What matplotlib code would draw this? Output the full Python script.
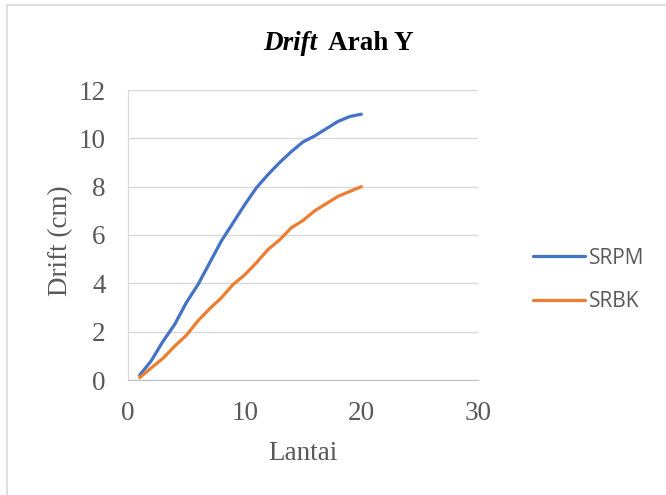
import matplotlib.pyplot as plt
import numpy as np

# data
lantai = np.arange(1, 21)
srpm = [0.2, 0.8, 1.6, 2.3, 3.2, 3.95, 4.85, 5.75, 6.5, 7.25,
        7.95, 8.5, 9.0, 9.45, 9.85, 10.1, 10.4, 10.7, 10.9, 11.0]
srbk = [0.1, 0.5, 0.9, 1.4, 1.85, 2.45, 2.95, 3.4, 3.95, 4.35,
        4.85, 5.4, 5.8, 6.3, 6.6, 7.0, 7.3, 7.6, 7.8, 8.0]
series_names = ['SRPM', 'SRBK']
colors = ['#4472C4', '#ED7D31']

serif = ['Liberation Serif', 'DejaVu Serif']
gray = '#595959'
fs = 19.5

fig = plt.figure(figsize=(6.66, 4.95), dpi=100)
ax = fig.add_axes([128/666, 115/495, 350/666, 290/495])

ax.plot(lantai, srpm, color=colors[0], lw=2.3, label=series_names[0], solid_capstyle='round')
ax.plot(lantai, srbk, color=colors[1], lw=2.3, label=series_names[1], solid_capstyle='round')

ax.set_xlim(0, 30)
ax.set_ylim(0, 12)
ax.set_xticks([0, 10, 20, 30])
ax.set_yticks(range(0, 13, 2))
ax.grid(axis='y', color='#d9d9d9', lw=1)
ax.set_axisbelow(True)
ax.tick_params(length=0, labelsize=fs, colors=gray)
ax.tick_params(axis='y', pad=16)
ax.tick_params(axis='x', pad=15)
for lab in ax.get_xticklabels() + ax.get_yticklabels():
    lab.set_family(serif)

for s in ['top', 'right']:
    ax.spines[s].set_visible(False)
ax.spines['left'].set_color('#d9d9d9')
ax.spines['bottom'].set_color('#bfbfbf')

ax.set_xlabel('Lantai', fontsize=fs, color=gray, family=serif)
ax.xaxis.set_label_coords(0.5, -0.212)
ax.set_ylabel('Drift (cm)', fontsize=fs, color=gray, family=serif)
ax.yaxis.set_label_coords(-0.157, 0.48)

# title: italic "Drift" + bold "Arah Y"
fig.text(0.477, 0.913, 'Drift', fontsize=fs, family=serif, weight='bold',
         style='italic', ha='right', va='center')
fig.text(0.4925, 0.913, 'Arah Y', fontsize=fs, family=serif, weight='bold',
         ha='left', va='center')

leg = ax.legend(loc='center left', bbox_to_anchor=(514/666, 1 - 280/495),
                bbox_transform=fig.transFigure, frameon=False,
                prop={'family': ['Open Sans', 'DejaVu Sans'], 'size': 15},
                handlelength=2.5, handletextpad=0.2, labelspacing=1.1)
for t in leg.get_texts():
    t.set_color(gray)

# chart area border (left and top edges visible)
fig.add_artist(plt.Line2D([7/666, 7/666], [0, 1 - 5/495], color='#d9d9d9', lw=1.2,
                          transform=fig.transFigure))
fig.add_artist(plt.Line2D([7/666, 1], [1 - 5/495, 1 - 5/495], color='#d9d9d9', lw=1.2,
                          transform=fig.transFigure))

fig.savefig('out.png', dpi=100)
